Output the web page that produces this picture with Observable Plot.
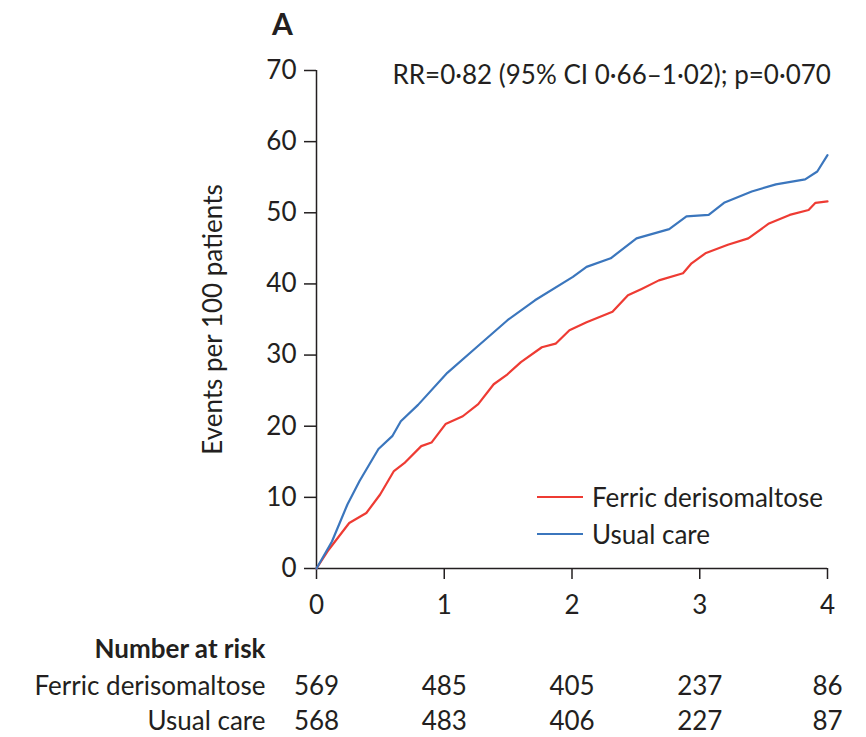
<!DOCTYPE html>
<html><head><meta charset="utf-8">
<script src="https://cdn.jsdelivr.net/npm/d3@7"></script>
<script src="https://cdn.jsdelivr.net/npm/@observablehq/plot@0.6"></script>
<style>
html,body{margin:0;padding:0;background:#fff;}
#wrap{position:relative;width:866px;height:737px;font-family:Lato,"Open Sans",sans-serif;color:#231f20;}
.leg{position:absolute;left:537px;font-size:26px;display:flex;align-items:center;line-height:30px;}
.leg span.sw{display:inline-block;width:46px;height:2.5px;margin-right:9px;}
</style></head>
<body><div id="wrap"></div>
<script>
const times = [0,0.121,0.242,0.337,0.485,0.593,0.66,0.795,1.024,1.253,1.495,1.71,2.007,2.114,2.303,2.505,2.761,2.896,3.07,3.19,3.407,3.596,3.825,3.92,4.0];
const usualCare = [0,3.8,9.0,12.3,16.8,18.6,20.7,23.0,27.5,31.1,34.9,37.7,41.0,42.4,43.6,46.4,47.7,49.5,49.7,51.4,53.0,54.0,54.7,55.8,58.1];
const timesFD = [0,0.094,0.256,0.39,0.498,0.606,0.687,0.82,0.90,1.01,1.145,1.266,1.387,1.495,1.60,1.764,1.872,1.98,2.114,2.317,2.438,2.545,2.68,2.869,2.936,3.044,3.22,3.38,3.542,3.704,3.852,3.906,4.0];
const ferric = [0,2.6,6.4,7.8,10.4,13.7,14.8,17.2,17.7,20.3,21.4,23.1,25.9,27.3,29.0,31.1,31.6,33.5,34.6,36.1,38.4,39.3,40.5,41.5,42.9,44.3,45.5,46.4,48.5,49.7,50.4,51.4,51.6];
const riskTimes = [0,1,2,3,4];
const riskFerric = [569,485,405,237,86];
const riskUsual = [568,483,406,227,87];
const yTicks = [0,10,20,30,40,50,60,70];
const xTicks = [0,1,2,3,4];
const seriesNames = ["Ferric derisomaltose","Usual care"];
const colors = {"Ferric derisomaltose":"#ee3b33","Usual care":"#3b76bd"};
const annotation = "RR=0·82 (95% CI 0·66–1·02); p=0·070";

const ink = "#231f20";
const fs = 26;
const fdData = timesFD.map((t,i)=>({t, v:ferric[i]}));
const ucData = times.map((t,i)=>({t, v:usualCare[i]}));
const risk = riskTimes.map((t,i)=>({t, f:riskFerric[i], u:riskUsual[i]}));

const plot = Plot.plot({
  width: 866, height: 737,
  marginLeft: 316, marginRight: 39, marginTop: 70, marginBottom: 169,
  style: {fontFamily: 'Lato, "Open Sans", sans-serif', fontSize: fs + "px", color: ink, background: "#fff", overflow: "visible"},
  x: {domain: [0,4]},
  y: {domain: [0,70]},
  marks: [
    Plot.axisX({ticks: xTicks, tickFormat: d => String(d), tickSize: 11, tickPadding: 16, label: null, stroke: ink, strokeWidth: 1.5, fill: ink, fontSize: fs}),
    Plot.axisY({ticks: yTicks, tickFormat: d => String(d), tickSize: 12, tickPadding: 8, label: "Events per 100 patients", labelAnchor: "center", labelArrow: "none", labelOffset: 113, stroke: ink, strokeWidth: 1.5, fill: ink, fontSize: fs}),
    Plot.ruleY([0], {stroke: ink, strokeWidth: 1.5}),
    Plot.ruleX([0], {stroke: ink, strokeWidth: 1.5}),
    Plot.line(fdData, {x: "t", y: "v", stroke: colors[seriesNames[0]], strokeWidth: 2.2}),
    Plot.line(ucData, {x: "t", y: "v", stroke: colors[seriesNames[1]], strokeWidth: 2.2}),
    Plot.text([annotation], {frameAnchor: "top-left", text: d=>d, textAnchor: "start", lineAnchor: "middle", dx: 76, dy: 5, fontSize: fs, fill: ink}),
    Plot.text(["A"], {frameAnchor: "top-left", text: d=>d, textAnchor: "middle", lineAnchor: "middle", dx: -34, dy: -45, fontSize: 30, fontWeight: "bold", fill: ink}),
    Plot.text(["Number at risk"], {frameAnchor: "bottom-left", text: d=>d, textAnchor: "end", dx: -51, dy: 89, fontSize: fs, fontWeight: "bold", fill: ink}),
    Plot.text([seriesNames[0]], {frameAnchor: "bottom-left", text: d=>d, textAnchor: "end", dx: -51, dy: 126, fontSize: fs, fill: ink}),
    Plot.text([seriesNames[1]], {frameAnchor: "bottom-left", text: d=>d, textAnchor: "end", dx: -51, dy: 161, fontSize: fs, fill: ink}),
    Plot.text(risk, {x: "t", frameAnchor: "bottom", text: "f", dy: 126, fontSize: fs, fill: ink}),
    Plot.text(risk, {x: "t", frameAnchor: "bottom", text: "u", dy: 161, fontSize: fs, fill: ink})
  ]
});
const wrap = document.getElementById("wrap");
wrap.appendChild(plot);
seriesNames.forEach((n,i)=>{
  const d = document.createElement("div");
  d.className = "leg";
  d.style.top = (482 + i*37) + "px";
  d.innerHTML = `<span class="sw" style="background:${colors[n]}"></span><span>${n}</span>`;
  wrap.appendChild(d);
});
</script></body></html>
